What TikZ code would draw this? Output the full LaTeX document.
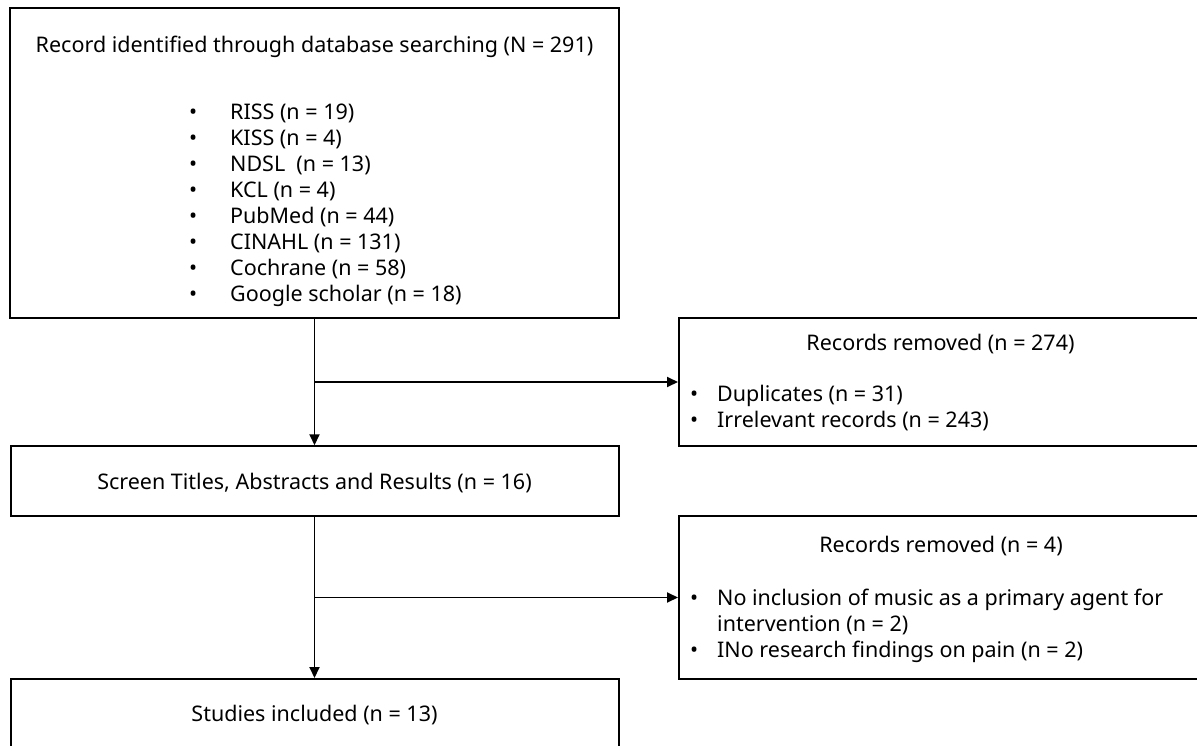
\documentclass[tikz,border=0pt]{standalone}
\usepackage{fontspec}
\setmainfont{Noto Sans}
\usetikzlibrary{arrows.meta}
\begin{document}
\begin{tikzpicture}[x=1pt,y=-1pt,
  box/.style={draw=black, line width=2pt, rectangle, inner sep=0pt},
  txt/.style={inner sep=0pt, font=\fontsize{21.5}{26}\selectfont, text=black},
  arr/.style={line width=1.9pt, -{Triangle[length=11pt,width=10pt]}}]
\useasboundingbox (0,0) rectangle (1197,746);
\clip (0,0) rectangle (1197,746);
% boxes
\node[box, minimum width=609pt, minimum height=309.5pt] (b1) at (314.5,162.75) {};
\node[box, minimum width=522pt, minimum height=128pt] (r1) at (940,382) {};
\node[box, minimum width=608pt, minimum height=69.5pt] (b2) at (314.5,481) {};
\node[box, minimum width=522pt, minimum height=163.5pt] (r2) at (940,597.5) {};
\node[box, minimum width=608pt, minimum height=68pt] (b3) at (314.5,713) {};
% texts
\node[txt, anchor=base] (t1) at (314.5,53) {Record identified through database searching (N = 291)};
\foreach \s [count=\i from 0] in {RISS (n = 19), KISS (n = 4), NDSL\ \ (n = 13), KCL (n = 4), PubMed (n = 44), CINAHL (n = 131), Cochrane (n = 58), Google scholar (n = 18)}
  \node[txt, anchor=base west] (l\i) at (189, 119.5+26*\i) {\makebox[41pt][l]{•}\s};
\node[txt, anchor=base] (t2) at (940.5,350) {Records removed (n = 274)};
\node[txt, anchor=base west] (d1) at (690,401) {\makebox[27pt][l]{•}Duplicates (n = 31)};
\node[txt, anchor=base west] (d2) at (690,427) {\makebox[27pt][l]{•}Irrelevant records (n = 243)};
\node[txt, anchor=base] (t3) at (314.5,489) {Screen Titles, Abstracts and Results (n = 16)};
\node[txt, anchor=base] (t4) at (941,552) {Records removed (n = 4)};
\node[txt, anchor=base west] (e1) at (690,605) {\makebox[27pt][l]{•}No inclusion of music as a primary agent for};
\node[txt, anchor=base west] (e2) at (717,631) {intervention (n = 2)};
\node[txt, anchor=base west] (e3) at (690,657) {\makebox[27pt][l]{•}INo research findings on pain (n = 2)};
\node[txt, anchor=base] (t5) at (314.5,721) {Studies included (n = 13)};
% connectors
\draw[arr] (b1.south) -- (b2.north);
\draw[arr] (b1.south |- r1.west) -- (r1.west);
\draw[arr] (b2.south) -- (b3.north);
\draw[arr] (b2.south |- r2.west) -- (r2.west);
\end{tikzpicture}
\end{document}
